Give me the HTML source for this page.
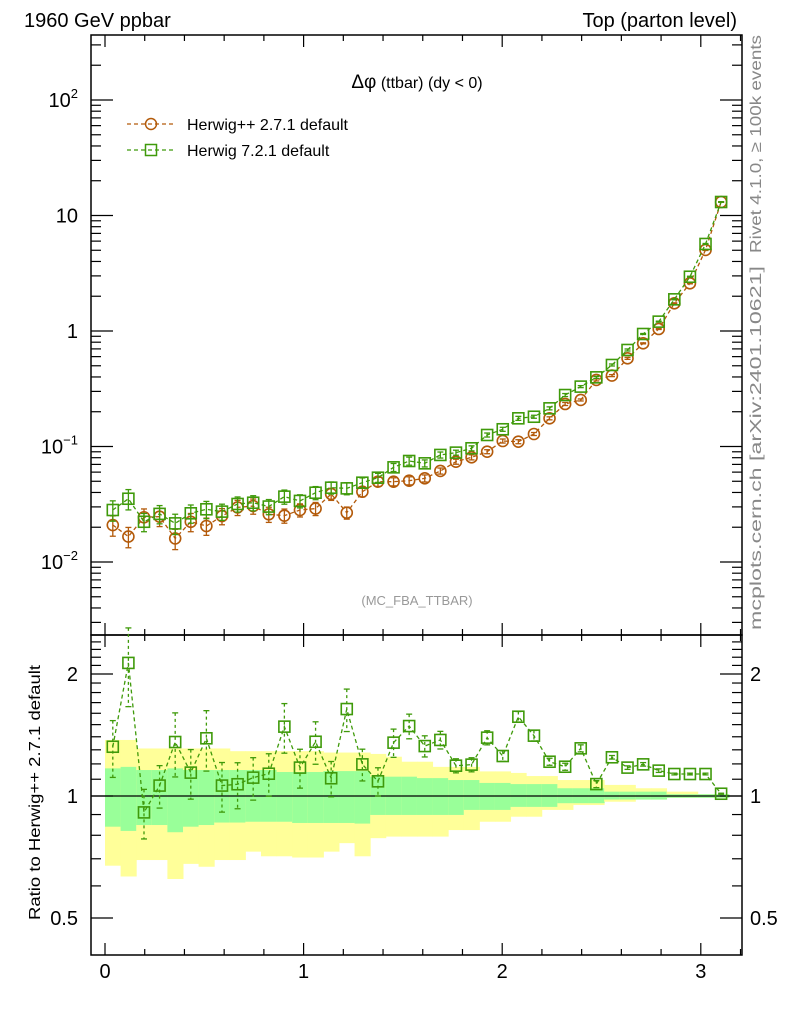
<!DOCTYPE html>
<html><head><meta charset="utf-8"><style>
html,body{margin:0;padding:0;background:#fff;}
svg{display:block;font-family:"Liberation Sans",sans-serif;}
</style></head><body>
<svg id="chart" width="786" height="1024" viewBox="0 0 786 1024" xmlns="http://www.w3.org/2000/svg">
<g id="bands"></g>
<g id="grid"></g>
<g id="series"></g>
<text x="24" y="27" font-size="20">1960 GeV ppbar</text>
<text x="737" y="27" font-size="20" text-anchor="end">Top (parton level)</text>
<text x="417" y="88" font-size="16" text-anchor="middle"><tspan font-size="19">Δφ</tspan> (ttbar) (dy &lt; 0)</text>
<text x="417" y="605" font-size="13" fill="#999" text-anchor="middle">(MC_FBA_TTBAR)</text>
<text transform="translate(761,253) rotate(-90)" font-size="16" fill="#888" textLength="218" lengthAdjust="spacingAndGlyphs">Rivet 4.1.0, ≥ 100k events</text>
<text transform="translate(761,630) rotate(-90)" font-size="16" fill="#888" textLength="364" lengthAdjust="spacingAndGlyphs">mcplots.cern.ch [arXiv:2401.10621]</text>
<text transform="translate(40,920) rotate(-90)" font-size="16" textLength="255" lengthAdjust="spacingAndGlyphs">Ratio to Herwig++ 2.7.1 default</text>
<g>
 <g>
  <line x1="127" y1="124" x2="175" y2="124" stroke="#b35a0a" stroke-width="1.3" stroke-dasharray="4,3"/>
  <circle cx="151" cy="124" r="5.5" fill="none" stroke="#b35a0a" stroke-width="1.5"/>
  <text x="187" y="130" font-size="16">Herwig++ 2.7.1 default</text>
 </g>
 <g>
  <line x1="127" y1="150" x2="175" y2="150" stroke="#3f9a0a" stroke-width="1.3" stroke-dasharray="4,3"/>
  <rect x="145.5" y="144.5" width="11" height="11" fill="none" stroke="#3f9a0a" stroke-width="1.5"/>
  <text x="187" y="156" font-size="16">Herwig 7.2.1 default</text>
 </g>
</g>
</svg>
<script>
const herwigpp = [0.0209,0.0166,0.0244,0.0247,0.0160,0.0223,0.0205,0.0250,0.0297,0.0305,0.0259,0.0252,0.0282,0.0290,0.0388,0.0267,0.0406,0.0496,0.0496,0.0506,0.0530,0.0614,0.0739,0.0806,0.0902,0.1116,0.1101,0.1283,0.1754,0.2334,0.2529,0.377,0.411,0.580,0.782,1.041,1.736,2.586,5.03,13.09];
const herwig7 = [0.0282,0.0353,0.0223,0.0261,0.0216,0.0264,0.0286,0.0273,0.0318,0.0326,0.0302,0.0368,0.0338,0.0398,0.0440,0.0434,0.0486,0.0537,0.0660,0.0749,0.0715,0.0845,0.0885,0.0965,0.1258,0.141,0.1754,0.181,0.214,0.279,0.330,0.397,0.508,0.685,0.942,1.205,1.88,2.95,5.67,13.09];
const relErr = [0.2,0.2,0.18,0.18,0.2,0.18,0.17,0.16,0.15,0.15,0.15,0.14,0.13,0.13,0.12,0.12,0.1,0.09,0.08,0.08,0.07,0.06,0.05,0.05,0.04,0.04,0.04,0.03,0.03,0.03,0.02,0.02,0.02,0.02,0.01,0.01,0.01,0.01,0.01,0.005];
const ratio = [1.323,2.13,0.911,1.061,1.359,1.142,1.388,1.061,1.069,1.110,1.135,1.483,1.175,1.361,1.106,1.639,1.197,1.087,1.354,1.488,1.328,1.375,1.188,1.195,1.393,1.255,1.569,1.409,1.215,1.181,1.311,1.070,1.246,1.175,1.197,1.155,1.133,1.133,1.133,1.013];
const ratioErr = [0.16,0.22,0.14,0.12,0.18,0.14,0.17,0.14,0.13,0.12,0.12,0.14,0.11,0.12,0.1,0.12,0.09,0.08,0.08,0.07,0.06,0.05,0.04,0.04,0.04,0.03,0.03,0.03,0.02,0.02,0.02,0.02,0.01,0.01,0.01,0.01,0.005,0.005,0.005,0.003];
const outerUp = [1.375,1.375,1.31,1.31,1.31,1.31,1.31,1.31,1.29,1.29,1.29,1.29,1.29,1.29,1.28,1.28,1.28,1.27,1.25,1.215,1.215,1.18,1.18,1.18,1.15,1.15,1.14,1.12,1.12,1.095,1.095,1.095,1.065,1.065,1.045,1.045,1.025,1.025,1.01,1.01];
const outerDn = [0.673,0.633,0.695,0.695,0.624,0.68,0.669,0.695,0.695,0.729,0.71,0.71,0.705,0.705,0.729,0.765,0.71,0.787,0.794,0.794,0.794,0.794,0.824,0.824,0.864,0.864,0.889,0.889,0.924,0.924,0.95,0.95,0.968,0.968,0.98,0.98,0.99,0.99,0.99,0.99];
const innerUp = [1.17,1.18,1.159,1.159,1.17,1.159,1.159,1.159,1.159,1.159,1.159,1.146,1.146,1.146,1.152,1.152,1.152,1.116,1.116,1.116,1.107,1.107,1.095,1.095,1.077,1.077,1.07,1.07,1.07,1.045,1.045,1.045,1.025,1.025,1.025,1.025,1.01,1.01,1.01,1.01];
const innerDn = [0.84,0.82,0.848,0.848,0.814,0.84,0.848,0.86,0.86,0.864,0.864,0.864,0.858,0.858,0.858,0.858,0.855,0.898,0.898,0.898,0.898,0.898,0.898,0.924,0.924,0.924,0.94,0.94,0.94,0.96,0.96,0.96,0.98,0.98,0.98,0.98,0.99,0.99,0.99,0.99];
const xTicks = ["0","1","2","3"];
const yMainTicks = [2,1,0,-1,-2];
const yRatioTicks = [2,1,0.5];

const NS="http://www.w3.org/2000/svg";
const L=91,R=742,T=35,MB=635,RB=955;
const X0=105,XU=198.6;
const sx=v=>X0+v*XU;
const sy=v=>100+(2-Math.log10(v))*115.5;
const sr=v=>796-Math.log2(v)*122;
const nb=40, bw=Math.PI/nb;
function mk(tag,attrs,parent){const e=document.createElementNS(NS,tag);for(const k in attrs)e.setAttribute(k,attrs[k]);parent.appendChild(e);return e;}
const bands=document.getElementById('bands'),grid=document.getElementById('grid'),ser=document.getElementById('series');
for(let i=0;i<nb;i++){
 const x1=sx(i*bw),x2=sx((i+1)*bw);
 const o=mk('rect',{x:x1,y:sr(outerUp[i]),width:x2-x1+0.5,height:sr(outerDn[i])-sr(outerUp[i]),fill:'#ffff99'},bands);
 
 
 const n=mk('rect',{x:x1,y:sr(innerUp[i]),width:x2-x1+0.5,height:sr(innerDn[i])-sr(innerUp[i]),fill:'#99ff99'},bands);
 
 
}
mk('line',{x1:L,y1:796,x2:R,y2:796,stroke:'#000','stroke-width':1.3},grid);
mk('rect',{x:L,y:T,width:R-L,height:MB-T,fill:'none',stroke:'#000','stroke-width':1.5},grid);
mk('rect',{x:L,y:MB,width:R-L,height:RB-MB,fill:'none',stroke:'#000','stroke-width':1.5},grid);
for(let v=0;v<=3.2001;v+=0.2){
 const x=sx(v),maj=Math.abs(v-Math.round(v))<1e-6,len=maj?12:6;
 [[T,1],[MB,-1],[MB,1],[RB,-1]].forEach(([y,d])=>mk('line',{x1:x,y1:y,x2:x,y2:y+d*len,stroke:'#000','stroke-width':1.2},grid));
}
xTicks.forEach(t=>{const e=mk('text',{x:sx(+t),y:978,'font-size':20,'text-anchor':'middle'},grid);e.textContent=t;
 
 });
for(let d=-3;d<=2;d++){for(let m=1;m<=9;m++){const v=m*Math.pow(10,d);const y=sy(v);if(y<T||y>MB)continue;const len=m===1?22:10;
 mk('line',{x1:L,y1:y,x2:L+len,y2:y,stroke:'#000','stroke-width':1.2},grid);
 mk('line',{x1:R,y1:y,x2:R-len,y2:y,stroke:'#000','stroke-width':1.2},grid);}}
yMainTicks.forEach(p=>{const y=sy(Math.pow(10,p));const e=mk('text',{x:78,y:y+7,'font-size':20,'text-anchor':'end'},grid);
 
 
 if(p===1)e.textContent='10';else if(p===0)e.textContent='1';else{
 e.textContent='10';const s=mk('tspan',{dy:-9,'font-size':13},e);s.textContent=p<0?'−'+(-p):''+p;}});
for(let v=0.4;v<=2.5;v+=0.1){const y=sr(v);if(y<MB||y>RB)continue;const maj=[0.5,1,2].some(a=>Math.abs(a-v)<1e-6);const len=maj?22:10;
 mk('line',{x1:L,y1:y,x2:L+len,y2:y,stroke:'#000','stroke-width':1.2},grid);
 mk('line',{x1:R,y1:y,x2:R-len,y2:y,stroke:'#000','stroke-width':1.2},grid);}
yRatioTicks.forEach(v=>{const y=sr(v)+7;
 const a=mk('text',{x:78,y:y,'font-size':20,'text-anchor':'end'},grid);a.textContent=String(v);
 
 
 const b=mk('text',{x:750,y:y,'font-size':20},grid);b.textContent=String(v);
 
 });
const BR='#b35a0a',GR='#3f9a0a';
function drawSeries(vals,errs,yf,col,shape,name){
 const pts=vals.map((v,i)=>[sx((i+0.5)*bw),yf(v)]);
 const pl=mk('polyline',{points:pts.map(p=>p.join(',')).join(' '),fill:'none',stroke:col,'stroke-width':1.3,'stroke-dasharray':'4,3'},ser);
 
 
 vals.forEach((v,i)=>{const [x,y]=pts[i];const yu=yf(v*(1+errs[i])),yd=yf(v*(1-errs[i]));
  mk('line',{x1:x,y1:yu,x2:x,y2:yd,stroke:col,'stroke-width':1.3,'stroke-dasharray':shape==='rect'&&yf===sr?'3,3':''},ser);
  mk('line',{x1:x-3,y1:yu,x2:x+3,y2:yu,stroke:col,'stroke-width':1.3},ser);
  mk('line',{x1:x-3,y1:yd,x2:x+3,y2:yd,stroke:col,'stroke-width':1.3},ser);
  let m;
  if(shape==='circle')m=mk('circle',{cx:x,cy:y,r:5.5,fill:'none',stroke:col,'stroke-width':1.6},ser);
  else m=mk('rect',{x:x-5.5,y:y-5.5,width:11,height:11,fill:'none',stroke:col,'stroke-width':1.6},ser);
  
  
 });
}
drawSeries(herwigpp,relErr,sy,BR,'circle','herwigpp');
drawSeries(herwig7,relErr,sy,GR,'rect','herwig7');
drawSeries(ratio,ratioErr,sr,GR,'rect','ratio-herwig7');
</script>
</body></html>
